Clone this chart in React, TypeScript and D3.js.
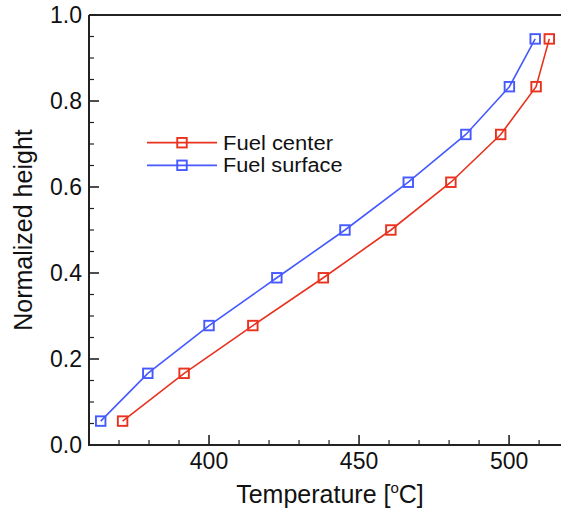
import React from "react";
import * as d3 from "d3";

const heights = [0.0556, 0.1667, 0.2778, 0.3889, 0.5, 0.6111, 0.7222, 0.8333, 0.9444];
const centerTemps = [371.2, 391.7, 414.6, 438.1, 460.6, 480.6, 497.2, 509.0, 513.4];
const surfaceTemps = [363.9, 379.6, 400.0, 422.6, 445.3, 466.4, 485.6, 500.1, 508.7];
const seriesNames = ["Fuel center", "Fuel surface"];
const seriesColors = ["#e8321e", "#4559ff"];
const xMajorTicks = [400, 450, 500];
const yMajorTicks = [0.0, 0.2, 0.4, 0.6, 0.8, 1.0];

const W = 561;
const H = 510;
const left = 89;
const top = 15;
const bottom = 445;
const right = 564;
const FONT = "'Liberation Sans', Arial, Helvetica, sans-serif";

export default function App() {
  const x = d3.scaleLinear().domain([360, 518.3]).range([left, right]);
  const y = d3.scaleLinear().domain([0, 1]).range([bottom, top]);
  const xMinor = d3.range(360, 520, 10).filter((v) => v % 50 !== 0);
  const yMinor = d3.range(0, 1.0001, 0.05).filter((v) => Math.abs((v * 5) - Math.round(v * 5)) > 1e-6);
  const series = [centerTemps, surfaceTemps];
  const line = d3
    .line<[number, number]>()
    .x((d) => x(d[0]))
    .y((d) => y(d[1]));
  const ms = 9.5;
  const axisColor = "#222";
  const legendWidths = [110, 119.5];

  return (
    <svg
      width={W}
      height={H}
      style={{ position: "absolute", left: 0, top: 0, background: "#fff" }}
      fontFamily={FONT}
    >
      <rect x={0} y={0} width={W} height={H} fill="#fff" />
      {/* data */}
      {series.map((temps, si) => {
        const pts: [number, number][] = temps.map((t, i) => [t, heights[i]]);
        return (
          <g key={si}>
            <path d={line(pts) || ""} fill="none" stroke={seriesColors[si]} strokeWidth={1.6} />
            {pts.map((p, i) => (
              <rect
                key={i}
                x={x(p[0]) - ms / 2}
                y={y(p[1]) - ms / 2}
                width={ms}
                height={ms}
                fill="none"
                stroke={seriesColors[si]}
                strokeWidth={1.9}
              />
            ))}
          </g>
        );
      })}
      {/* frame */}
      <line x1={left} x2={right} y1={top} y2={top} stroke={axisColor} strokeWidth={2} />
      <line x1={left} x2={right} y1={bottom} y2={bottom} stroke={axisColor} strokeWidth={2} />
      <line x1={left} x2={left} y1={top} y2={bottom + 1} stroke={axisColor} strokeWidth={2} />
      {/* x ticks */}
      {xMajorTicks.map((v) => (
        <g key={v}>
          <line x1={x(v)} x2={x(v)} y1={bottom} y2={bottom - 10} stroke={axisColor} strokeWidth={1.6} />
          <text x={x(v)} y={469} textAnchor="middle" fontSize={23} fill="#111">
            {v}
          </text>
        </g>
      ))}
      {xMinor.map((v) => (
        <line key={v} x1={x(v)} x2={x(v)} y1={bottom} y2={bottom - 5} stroke={axisColor} strokeWidth={1.2} />
      ))}
      {/* y ticks */}
      {yMajorTicks.map((v) => (
        <g key={v}>
          <line x1={left} x2={left + 10} y1={y(v)} y2={y(v)} stroke={axisColor} strokeWidth={1.6} />
          <text x={82} y={y(v) + 8} textAnchor="end" fontSize={23} fill="#111">
            {v.toFixed(1)}
          </text>
        </g>
      ))}
      {yMinor.map((v) => (
        <line key={v} x1={left} x2={left + 5} y1={y(v)} y2={y(v)} stroke={axisColor} strokeWidth={1.2} />
      ))}
      {/* axis titles */}
      <text x={330} y={503} textAnchor="middle" fontSize={25} fill="#111">
        Temperature [
        <tspan fontSize={15} dy={-10}>o</tspan>
        <tspan dy={10}>C]</tspan>
      </text>
      <text
        transform={`translate(32, 230) rotate(-90)`}
        textAnchor="middle"
        fontSize={25}
        fill="#111"
      >
        Normalized height
      </text>
      {/* legend */}
      {seriesNames.map((name, i) => {
        const ly = 142.7 + i * 22.6;
        return (
          <g key={name}>
            <line x1={147} x2={217} y1={ly} y2={ly} stroke={seriesColors[i]} strokeWidth={1.8} />
            <rect
              x={182 - ms / 2}
              y={ly - ms / 2}
              width={ms}
              height={ms}
              fill="none"
              stroke={seriesColors[i]}
              strokeWidth={1.9}
            />
            <text
              x={223}
              y={ly + 7}
              fontSize={19.5}
              fill="#111"
              textLength={legendWidths[i]}
              lengthAdjust="spacingAndGlyphs"
            >
              {name}
            </text>
          </g>
        );
      })}
    </svg>
  );
}
